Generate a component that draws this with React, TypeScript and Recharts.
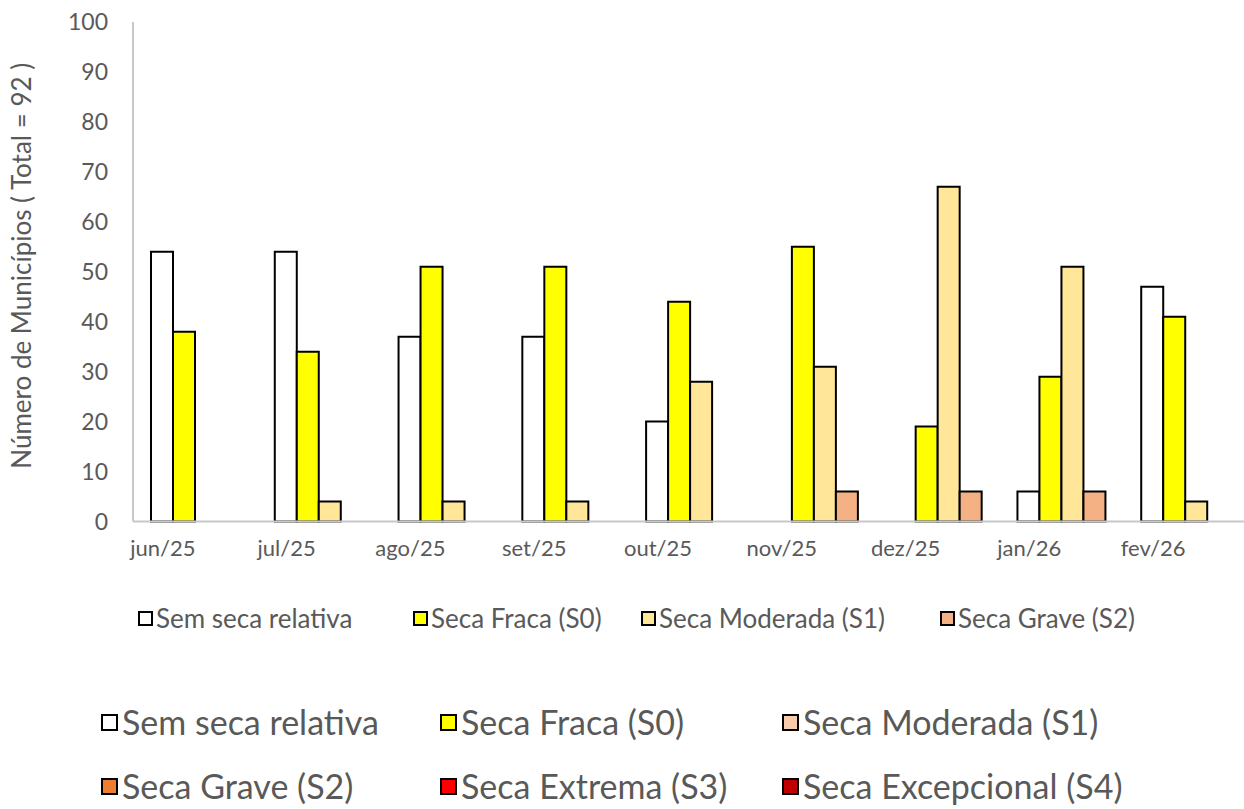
import { BarChart, Bar, XAxis, YAxis, Legend } from "recharts";

// dados: número de municípios por classe de seca
const months = ["jun/25", "jul/25", "ago/25", "set/25", "out/25", "nov/25", "dez/25", "jan/26", "fev/26"];
const semSeca = [54, 54, 37, 37, 20, 0, 0, 6, 47];
const secaFraca = [38, 34, 51, 51, 44, 55, 19, 29, 41];
const secaModerada = [0, 4, 4, 4, 28, 31, 67, 51, 4];
const secaGrave = [0, 0, 0, 0, 0, 6, 6, 6, 0];
const yTicks = [0, 10, 20, 30, 40, 50, 60, 70, 80, 90, 100];

const series = [
  { key: "semSeca", name: "Sem seca relativa", color: "#ffffff" },
  { key: "secaFraca", name: "Seca Fraca (S0)", color: "#ffff00" },
  { key: "secaModerada", name: "Seca Moderada (S1)", color: "#ffe699" },
  { key: "secaGrave", name: "Seca Grave (S2)", color: "#f4b183" },
];

// legenda do mapa (todas as classes)
const mapClasses = [
  { name: "Sem seca relativa", color: "#ffffff" },
  { name: "Seca Fraca (S0)", color: "#ffff00" },
  { name: "Seca Moderada (S1)", color: "#f8cbad" },
  { name: "Seca Grave (S2)", color: "#ed7d31" },
  { name: "Seca Extrema (S3)", color: "#ff0000" },
  { name: "Seca Excepcional (S4)", color: "#c00000" },
];

const data = months.map((m, i) => ({
  month: m,
  semSeca: semSeca[i],
  secaFraca: secaFraca[i],
  secaModerada: secaModerada[i],
  secaGrave: secaGrave[i],
}));

const FONT = "Lato, 'Open Sans', sans-serif";
const GRAY = "#595959";

const legendLefts = [138, 413, 641, 940];
const mapCols = [101, 440, 782];
const mapRows = [722, 786];

function ChartLegend() {
  return (
    <div style={{ position: "relative", width: 1244, height: 30 }}>
      {series.map((s, i) => (
        <div
          key={s.key}
          style={{
            position: "absolute",
            left: legendLefts[i],
            top: 0,
            height: 30,
            display: "flex",
            alignItems: "center",
            fontFamily: FONT,
            fontSize: 26,
            color: GRAY,
            whiteSpace: "nowrap",
          }}
        >
          <span
            style={{
              display: "inline-block",
              width: 11,
              height: 11,
              background: s.color,
              border: "2px solid #000",
              marginRight: 3,
            }}
          />
          {s.name}
        </div>
      ))}
    </div>
  );
}

function YLabel({ viewBox }: any) {
  const cx = 21;
  const cy = viewBox.y + viewBox.height / 2 - 6;
  return (
    <text
      x={cx}
      y={cy}
      transform={`rotate(-90, ${cx}, ${cy})`}
      textAnchor="middle"
      dominantBaseline="central"
      fill={GRAY}
      fontSize={26}
      fontFamily={FONT}
    >
      Número de Municípios ( Total = 92 )
    </text>
  );
}

export default function App() {
  return (
    <div
      style={{
        position: "absolute",
        left: 0,
        top: 0,
        width: 1244,
        height: 809,
        overflow: "hidden",
        background: "#fff",
      }}
    >
      <BarChart
        width={1250}
        height={660}
        data={data}
        margin={{ top: 22, right: 3, left: 0, bottom: 68.5 }}
        barSize={22}
        barGap={0}
      >
        <XAxis
          dataKey="month"
          height={40}
          axisLine={{ stroke: "#c8c8c8", strokeWidth: 2 }}
          tickLine={false}
          tickMargin={13}
          tick={{ fill: GRAY, fontSize: 22, fontFamily: FONT, dx: -32 }}
          interval={0}
        />
        <YAxis
          width={133}
          domain={[0, 100]}
          ticks={yTicks}
          interval={0}
          axisLine={{ stroke: "#c8c8c8", strokeWidth: 2 }}
          tickLine={false}
          tickSize={0}
          tickMargin={25}
          tick={{ fill: GRAY, fontSize: 23, fontFamily: FONT }}
          label={<YLabel />}
        />
        <Legend
          verticalAlign="bottom"
          wrapperStyle={{ position: "absolute", top: 603, left: 0, width: 1244, height: 30 }}
          content={() => <ChartLegend />}
        />
        {series.map((s) => (
          <Bar
            key={s.key}
            dataKey={s.key}
            name={s.name}
            fill={s.color}
            stroke="#000"
            strokeWidth={2}
            isAnimationActive={false}
          />
        ))}
      </BarChart>
      {mapClasses.map((c, i) => (
        <div
          key={c.name}
          style={{
            position: "absolute",
            left: mapCols[i % 3],
            top: mapRows[Math.floor(i / 3)] - 20,
            height: 40,
            display: "flex",
            alignItems: "center",
            fontFamily: FONT,
            fontSize: 34,
            lineHeight: "40px",
            color: GRAY,
            whiteSpace: "nowrap",
          }}
        >
          <span
            style={{
              display: "inline-block",
              width: 13,
              height: 13,
              background: c.color,
              border: "2px solid #000",
              marginRight: 4,
            }}
          />
          {c.name}
        </div>
      ))}
    </div>
  );
}
